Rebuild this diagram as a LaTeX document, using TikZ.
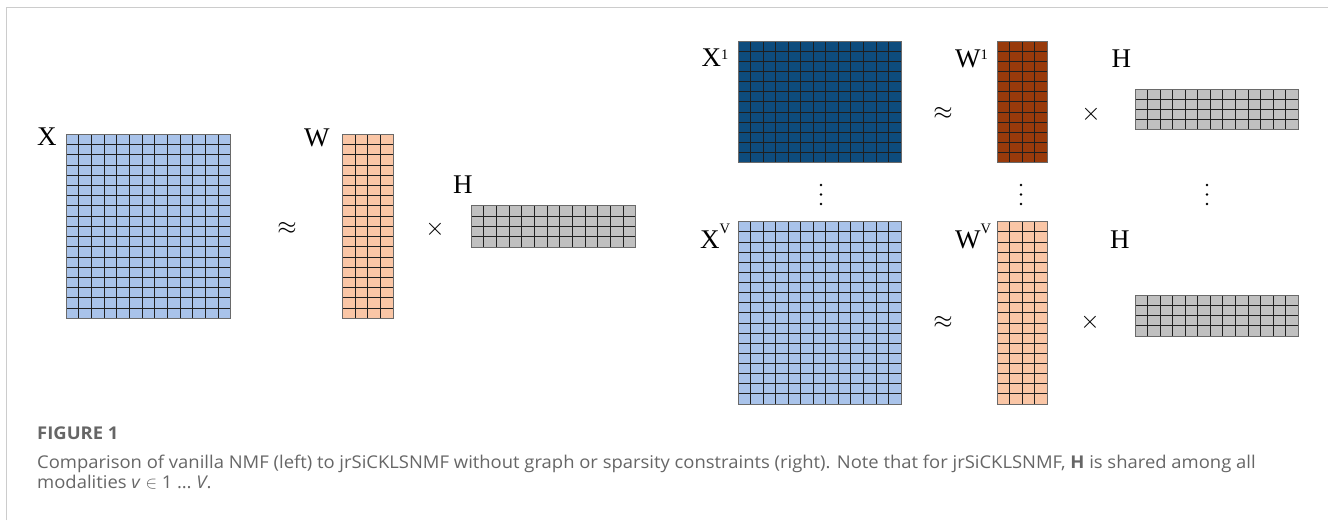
\documentclass[tikz,border=0pt]{standalone}
\usepackage{fontspec}
\setmainfont{Liberation Serif}
\newfontfamily\capfont[FakeStretch=1.047]{Open Sans}
\usetikzlibrary{calc}
\definecolor{lblue}{HTML}{A9C3EA}
\definecolor{peach}{HTML}{FAC6A6}
\definecolor{mgray}{HTML}{C0C0C0}
\definecolor{dblue}{HTML}{0E4C7D}
\definecolor{rust}{HTML}{983A0B}
\definecolor{framegray}{HTML}{CCCCCC}
\definecolor{capgray}{HTML}{666666}
\definecolor{bordgray}{HTML}{6A6A6A}
\tikzset{
  matnode/.style={draw=bordgray, line width=0.9pt, inner sep=0pt, outer sep=0pt},
  gridline/.style={draw=black!88, line width=0.9pt},
  matborder/.style={draw=bordgray, line width=0.9pt},
  lab/.style={anchor=base west, inner sep=0pt, font=\fontsize{27}{27}\selectfont},
  apsym/.style={inner sep=0pt, font=\fontsize{26}{26}\selectfont},
  tisym/.style={inner sep=0pt, font=\fontsize{33}{33}\selectfont},
  vdot/.style={circle, fill=black, inner sep=0pt, minimum size=2.8pt},
  capstyle/.style={anchor=base west, inner sep=0pt, text=capgray, font=\capfont\fontsize{17.6}{17.6}\selectfont},
  framestyle/.style={draw=framegray, line width=1.2pt}
}
\newcommand{\matbox}[8]{%
  \node[matnode, fill=#8, minimum width=#4pt, minimum height=#5pt, anchor=north west] (#1) at (#2,#3) {};
  \pgfmathtruncatemacro{\nc}{#6-1}%
  \pgfmathtruncatemacro{\nr}{#7-1}%
  \foreach \i in {1,...,\nc}{\draw[gridline] ($(#1.north west)!\i/#6!(#1.north east)$) -- ($(#1.south west)!\i/#6!(#1.south east)$);}
  \foreach \j in {1,...,\nr}{\draw[gridline] ($(#1.north west)!\j/#7!(#1.south west)$) -- ($(#1.north east)!\j/#7!(#1.south east)$);}
  \draw[matborder] (#1.north west) rectangle (#1.south east);
}
\newcommand{\mysup}[2]{\raisebox{#1}{\fontsize{14.5}{14.5}\selectfont #2}}
\begin{document}
\begin{tikzpicture}[x=1pt,y=-1pt]
\useasboundingbox (0,0) rectangle (1328,520);
% frame
\coordinate (fa) at (6.5,520);
\coordinate (fb) at (6.5,7.5);
\coordinate (fc) at (1328,7.5);
\draw[framestyle] (fa) -- (fb) -- (fc);
% left: X ~ W x H
\matbox{X}{66}{134.3}{164.7}{184}{13}{18}{lblue}
\matbox{W}{342.3}{134.3}{51}{184}{4}{18}{peach}
\matbox{H}{471}{205.7}{164.7}{41.3}{13}{4}{mgray}
\node[lab] (lX) at (37,145) {X};
\node[lab] (lW) at (304,146) {W};
\node[lab] (lH) at (453,193) {H};
\node[apsym] (ap0) at (287,228) {$\approx$};
\node[tisym] (ti0) at (435,229) {$\times$};
% right top
\matbox{Xa}{738.3}{41}{162.7}{121.7}{13}{12}{dblue}
\matbox{Wa}{997.3}{41}{50}{121.7}{4}{12}{rust}
\matbox{Ha}{1135}{89}{163.3}{40.7}{13}{4}{mgray}
\node[lab] (lXa) at (701.5,66.7) {X\mysup{7.5pt}{1}};
\node[lab] (lWa) at (955,67) {W\mysup{7.5pt}{1}};
\node[lab] (lHa) at (1111.5,67) {H};
\node[apsym] (ap1) at (943,113) {$\approx$};
\node[tisym] (ti1) at (1091,114) {$\times$};
% dots
\foreach \xx/\nm in {821/a,1021/b,1207/c}{
  \node[vdot] (d1\nm) at (\xx,185) {};
  \node[vdot] (d2\nm) at (\xx,194.5) {};
  \node[vdot] (d3\nm) at (\xx,204) {};
}
% right bottom
\matbox{Xv}{738.3}{221.7}{162.7}{182.3}{13}{18}{lblue}
\matbox{Wv}{997.3}{221.7}{50}{182.3}{4}{18}{peach}
\matbox{Hv}{1135}{295.5}{163.3}{40.5}{13}{4}{mgray}
\node[lab] (lXv) at (700,248) {X\mysup{15pt}{V}};
\node[lab] (lWv) at (955,248) {W\mysup{15pt}{V}};
\node[lab] (lHv) at (1110,248) {H};
\node[apsym] (ap2) at (943,322) {$\approx$};
\node[tisym] (ti2) at (1090,322.5) {$\times$};
% caption
\node[capstyle, font=\capfont\bfseries\fontsize{17.6}{17.6}\selectfont] (figlab) at (37,439) {FIGURE 1};
\node[capstyle] (cap1) at (37,468) {Comparison of vanilla NMF (left) to jrSiCKLSNMF without graph or sparsity constraints (right). Note that for jrSiCKLSNMF, \textbf{H} is shared among all};
\node[capstyle] (cap2) at (37,488.5) {modalities \textit{v} $\in$ 1 \ldots{} \textit{V}.};
\end{tikzpicture}
\end{document}
